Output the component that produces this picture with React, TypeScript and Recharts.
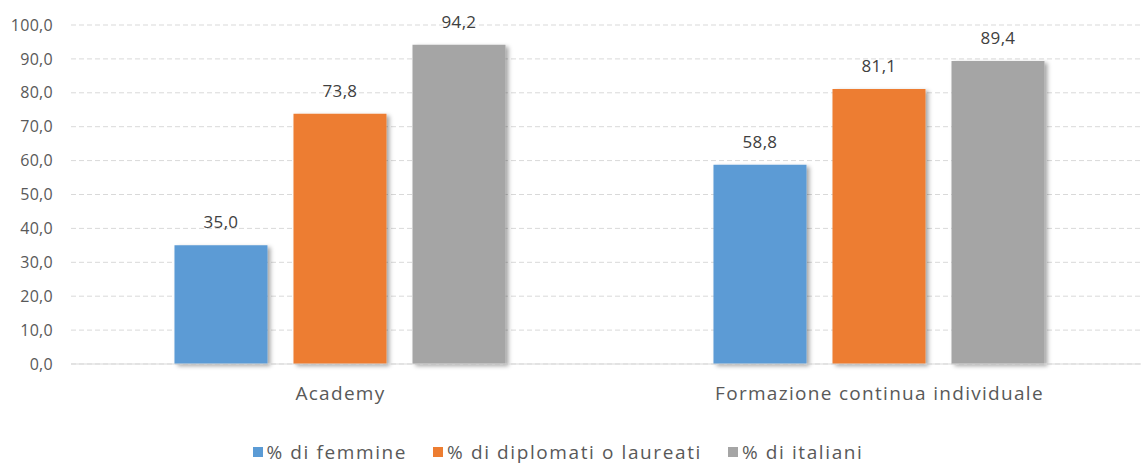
import React from 'react';
import { BarChart, Bar, XAxis, YAxis, CartesianGrid, Legend, LabelList } from 'recharts';

const categories = ['Academy', 'Formazione continua individuale'];
const femmine = [35.0, 58.8];
const diplomati = [73.8, 81.1];
const italiani = [94.2, 89.4];
const yTicks = [0, 10, 20, 30, 40, 50, 60, 70, 80, 90, 100];

const series = [
  { key: 'femmine', name: '% di femmine', color: '#5b9bd5' },
  { key: 'diplomati', name: '% di diplomati o laureati', color: '#ed7d31' },
  { key: 'italiani', name: '% di italiani', color: '#a5a5a5' },
];

const data = categories.map((c, i) => ({
  name: c,
  femmine: femmine[i],
  diplomati: diplomati[i],
  italiani: italiani[i],
}));

const fmt = (v: number) => v.toFixed(1).replace('.', ',');
const FONT = "'Open Sans', sans-serif";

const LegendContent = () => (
  <div style={{ display: 'flex', justifyContent: 'center', alignItems: 'center', fontFamily: FONT }}>
    {series.map((s, i) => (
      <div key={s.key} style={{ display: 'flex', alignItems: 'center', marginLeft: i === 0 ? 0 : 26 }}>
        <div style={{ width: 10, height: 10, background: s.color, marginRight: 4 }} />
        <span style={{ color: '#595959', fontSize: 19, fontWeight: 400, letterSpacing: 1.6, lineHeight: '22px', whiteSpace: 'nowrap' }}>{s.name}</span>
      </div>
    ))}
  </div>
);

export default function App() {
  return (
    <div style={{ position: 'absolute', left: 0, top: 0, width: 1141, height: 465, overflow: 'hidden', fontFamily: FONT }}>
      <BarChart
        width={1150}
        height={465}
        data={data}
        margin={{ top: 25, right: 1, bottom: 0, left: 0 }}
        barCategoryGap="19.2%"
        barGap={26}
      >
        <defs>
          <filter id="shadow" x="-20%" y="-20%" width="150%" height="150%">
            <feDropShadow dx="3" dy="2" stdDeviation="2" floodColor="#000" floodOpacity="0.35" />
          </filter>
        </defs>
        <CartesianGrid vertical={false} stroke="#d9d9d9" strokeDasharray="5 3" />
        <XAxis
          dataKey="name"
          axisLine={{ stroke: '#d9d9d9' }}
          tickLine={false}
          height={77}
          tickMargin={17}
          tick={{ fill: '#595959', fontSize: 19, fontFamily: FONT, fontWeight: 400, letterSpacing: 1.3 }}
        />
        <YAxis
          domain={[0, 100]}
          ticks={yTicks}
          tickFormatter={fmt}
          axisLine={false}
          tickLine={false}
          width={71}
          tickMargin={12}
          interval={0}
          tick={{ fill: '#595959', fontSize: 16, fontFamily: FONT, fontWeight: 400, letterSpacing: 0.3 }}
        />
        <Legend height={24} content={<LegendContent />} wrapperStyle={{ bottom: 0, left: 0, width: 1116 }} />
        {series.map((s) => (
          <Bar key={s.key} dataKey={s.key} name={s.name} fill={s.color} isAnimationActive={false} filter="url(#shadow)">
            <LabelList
              dataKey={s.key}
              position="top"
              offset={17}
              formatter={fmt}
              fill="#404040"
              fontSize={17}
              fontWeight={400}
              letterSpacing={0.3}
              fontFamily={FONT}
            />
          </Bar>
        ))}
      </BarChart>
    </div>
  );
}
